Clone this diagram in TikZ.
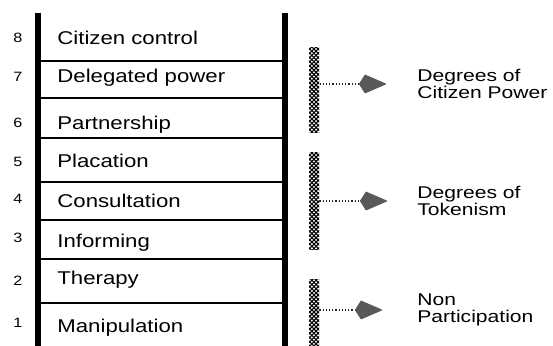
\documentclass[tikz,border=0pt]{standalone}
\usepackage{fontspec}
\setmainfont{Liberation Sans}
\usepackage{graphicx}
\usetikzlibrary{arrows.meta,positioning,patterns.meta}
\newcommand{\widetxt}[2][1.2]{\scalebox{#1}[1]{#2}}

\begin{document}
\begin{tikzpicture}[x=0.5pt,y=-0.5pt,>={Kite[length=14pt,width=9.5pt,inset=3pt,round,black!65]}]
        \tikzset{rail/.style={line width=2.8pt},
        rung/.style={line width=1.2pt},
        num/.style={anchor=base,inner sep=0pt,font=\fontsize{6.75}{7}\selectfont},
        rname/.style={anchor=base west,inner sep=0pt,font=\fontsize{9.25}{11}\selectfont},
        hatchbar/.style={ % requires library patterns.meta
        minimum width=5pt,
        inner sep=0pt,
        preaction={pattern={Lines[angle=45,distance=1.5pt,line width=.55pt]}},
        pattern={Lines[angle=-45,distance=1.5pt,line width=.55pt]}
    },
        degree/.style={anchor=west,inner sep=0pt,align=left,font=\fontsize{8.5}{8.3}\selectfont},
        link/.style={densely dotted,line width=.6pt,->,black!85}
        }
        \useasboundingbox (0,0) rectangle (553,346);
%% ladder
        \coordinate (lefttop) at (38,13);
        \coordinate (righttop) at (285,13);
        \draw[rail] (lefttop) -- (lefttop |- 0,346);
        \draw[rail] (righttop) -- (righttop |- 0,346);
        \foreach \y in {61,98,138,182,220,259,303}
            \draw[rung] (lefttop |- 0,\y) -- (righttop |- 0,\y);
        \foreach \n/\yn/\yl/\t in {8/43/45/Citizen control,7/82/83/Delegated power,
                6/128/130/Partnership,5/167/168/Placation,4/204/208/Consultation,
                3/243/248/Informing,2/286/285/Therapy,1/328/333/Manipulation}
        {
            \node [num] (num\n) at (18,\yn) {\widetxt{\n}};
            \node [rname] (rung\n) at (57,\yl) {\widetxt{\t}};
        }
%% groups
        \node [hatchbar, minimum height=42.5pt] (power) at (314,90.5) {};
        \node [hatchbar, minimum height=48.5pt] (token) at (314,201.5) {};
        \node [hatchbar, minimum height=33pt] (nonpart) at (314,313) {};
        \node [degree] (powerlab) at (417,84) {\widetxt[1.24]{Degrees of}\\\widetxt[1.24]{Citizen Power}};
        \node [degree] (tokenlab) at (417,201) {\widetxt[1.24]{Degrees of}\\\widetxt[1.24]{Tokenism}};
        \node [degree] (nonlab) at (417,310) {\widetxt[1.24]{Non}\\\widetxt[1.24]{Participation}};
%% paths
        \draw[link, shorten >=15.5pt] (power.east |- powerlab.west) -- (powerlab.west);
        \draw[link, shorten >=15pt] (token.east |- tokenlab.west) -- (tokenlab.west);
        \draw[link, shorten >=17.5pt] (nonpart.east |- nonlab.west) -- (nonlab.west);
    \end{tikzpicture}
\end{document}
